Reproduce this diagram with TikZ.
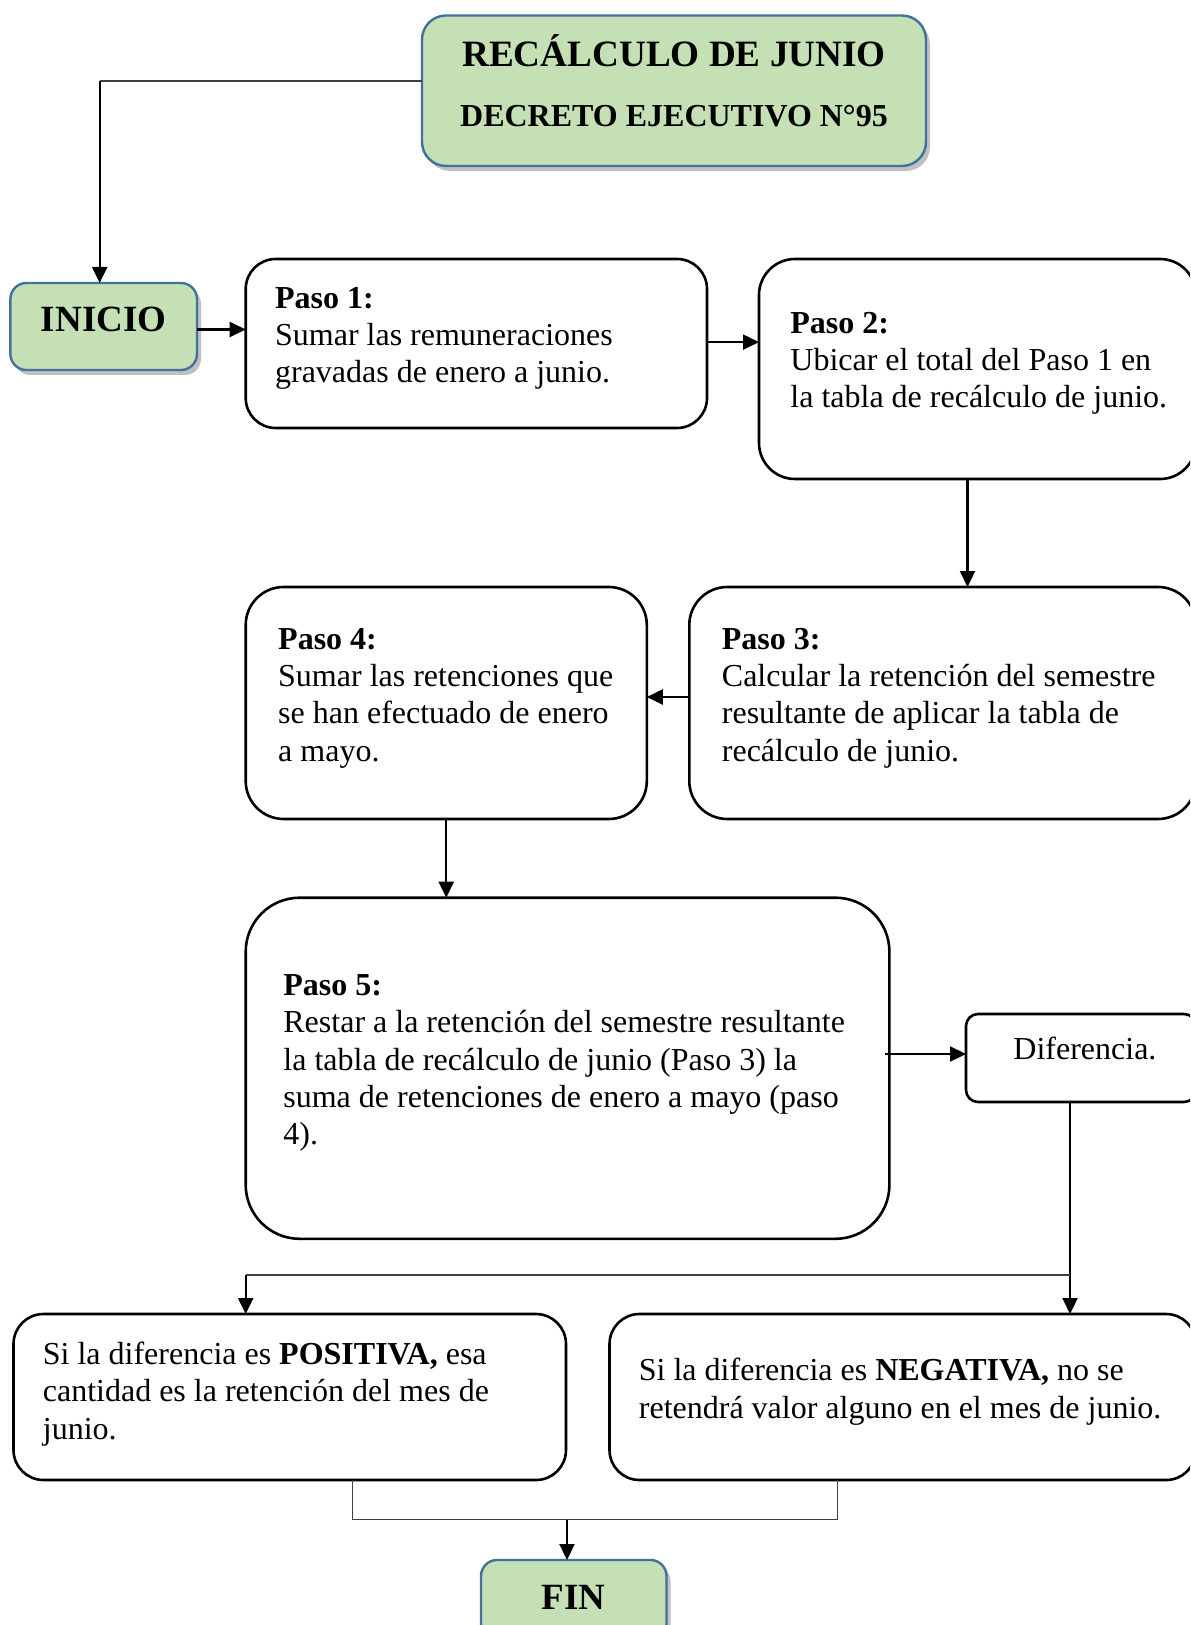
\documentclass[tikz,border=0pt]{standalone}
\usepackage{fontspec}
\setmainfont{Liberation Serif}
\usetikzlibrary{arrows.meta,shadows,calc}
\definecolor{gfill}{HTML}{C5E0B4}
\definecolor{gborder}{HTML}{41719C}
\definecolor{thinc}{HTML}{404040}
\begin{document}
\begin{tikzpicture}[x=0.5pt,y=-0.5pt,
  box/.style={draw=black,line width=1.3pt,rectangle,inner sep=0pt,outer sep=0pt},
  gbox/.style={draw=gborder,line width=1.2pt,fill=gfill,rectangle,inner sep=0pt,outer sep=0pt,
    drop shadow={shadow xshift=2pt,shadow yshift=-2.5pt,opacity=0.35,fill=black!70}},
  txt/.style={anchor=base west,inner sep=0pt,align=left,font=\fontsize{16}{18.6}\selectfont},
  big/.style={anchor=base,inner sep=0pt,font=\fontsize{18.5}{22}\selectfont\bfseries},
  arr/.style={line width=1.1pt,-{Triangle[length=8pt,width=7.5pt]}},
  thinline/.style={line width=0.6pt,draw=thinc}
]
\useasboundingbox (0,0) rectangle (1190,1625);
\clip (0,0) rectangle (1190,1625);
\fill[white] (0,0) rectangle (1190,1625);

% boxes
\node[gbox,minimum width=252pt,minimum height=75.25pt,rounded corners=12pt] (title) at (674,90.75) {};
\node[gbox,minimum width=93.3pt,minimum height=43.5pt,rounded corners=8pt] (inicio) at (103.7,326.5) {};
\node[box,minimum width=230.65pt,minimum height=84.5pt,rounded corners=15pt] (p1) at (476.35,343.5) {};
\node[box,minimum width=218.5pt,minimum height=110pt,rounded corners=18pt] (p2) at (977.5,369) {};
\node[box,minimum width=253.35pt,minimum height=116pt,rounded corners=19pt] (p3) at (942.65,703) {};
\node[box,minimum width=200.55pt,minimum height=116pt,rounded corners=19pt] (p4) at (446.25,703) {};
\node[box,minimum width=321.85pt,minimum height=170.55pt,rounded corners=27pt] (p5) at (567.55,1068.25) {};
\node[box,minimum width=115pt,minimum height=44pt,rounded corners=6pt] (dif) at (1081,1058) {};
\node[box,minimum width=276.25pt,minimum height=83pt,rounded corners=15pt] (pos) at (289.75,1397) {};
\node[box,minimum width=293.25pt,minimum height=83pt,rounded corners=15pt] (neg) at (902.75,1397) {};
\node[gbox,minimum width=92.75pt,minimum height=40pt,rounded corners=8pt] (fin) at (573.75,1600) {};

% texts (base anchor = baseline of last line)
\node[anchor=base,inner sep=0pt,font=\fontsize{18.6}{22}\selectfont\bfseries] (tt1) at (674,67) {RECÁLCULO DE JUNIO};
\node[anchor=base,inner sep=0pt,font=\fontsize{16}{20}\selectfont\bfseries] (tt2) at (674,127) {DECRETO EJECUTIVO N°95};
\node[big] (tinicio) at (103.7,332) {INICIO};
\node[big] (tfin) at (573.75,1609) {FIN};
\node[txt] (tp1) at (274.7,383) {\textbf{Paso 1:}\\Sumar las remuneraciones\\gravadas de enero a junio.};
\node[txt] (tp2) at (790,408) {\textbf{Paso 2:}\\Ubicar el total del Paso 1 en\\la tabla de recálculo de junio.};
\node[txt] (tp3) at (721.5,761) {\textbf{Paso 3:}\\Calcular la retención del semestre\\resultante de aplicar la tabla de\\recálculo de junio.};
\node[txt] (tp4) at (277.8,761) {\textbf{Paso 4:}\\Sumar las retenciones que\\se han efectuado de enero\\a mayo.};
\node[txt] (tp5) at (283,1144.5) {\textbf{Paso 5:}\\Restar a la retención del semestre resultante\\la tabla de recálculo de junio (Paso 3) la\\suma de retenciones de enero a mayo (paso\\4).};
\node[txt] (tdif) at (1013,1059.5) {Diferencia.};
\node[txt] (tpos) at (42.5,1439) {Si la diferencia es \textbf{POSITIVA,} esa\\cantidad es la retención del mes de\\junio.};
\node[txt] (tneg) at (638.5,1418) {Si la diferencia es \textbf{NEGATIVA,} no se\\retendrá valor alguno en el mes de junio.};

% connectors
\coordinate (corner) at ([xshift=-2pt]inicio.north |- 0,81);
\draw[thinline] (title.west |- corner) -- (corner);
\draw[arr] (corner) -- ([xshift=-2pt]inicio.north);
\draw[arr] ([yshift=-1.5pt]inicio.east) -- ([yshift=-1.5pt]inicio.east -| p1.west);
\draw[arr] ([yshift=0.7pt]p1.east) -- ([yshift=0.7pt]p1.east -| p2.west);
\draw[arr] ([xshift=-5pt]p2.south) -- ([xshift=-5pt]p2.south |- p3.north);
\draw[arr] ([yshift=3pt]p3.west) -- ([yshift=3pt]p3.west -| p4.east);
\draw[arr] (p4.south) -- (p4.south |- p5.north);
\draw[arr] ([xshift=-2pt]p5.east |- 0,1054) -- (dif.west |- 0,1054);
\draw[arr] ([xshift=-5.5pt]dif.south) -- ([xshift=-5.5pt]dif.south |- neg.north);
\coordinate (split) at (1070,1275);
\coordinate (branchL) at (245.7,1275);
\draw[thinline] (split) -- (branchL);
\draw[arr] (branchL) -- (branchL |- pos.north);
\coordinate (jL) at (352.5,1519.7);
\coordinate (jR) at (837.6,1519.7);
\coordinate (jM) at (567,1519.7);
\draw[thinline] (jL |- pos.south) -- (jL) -- (jR) -- (jR |- neg.south);
\draw[arr] (jM) -- (jM |- fin.north);
\end{tikzpicture}
\end{document}
